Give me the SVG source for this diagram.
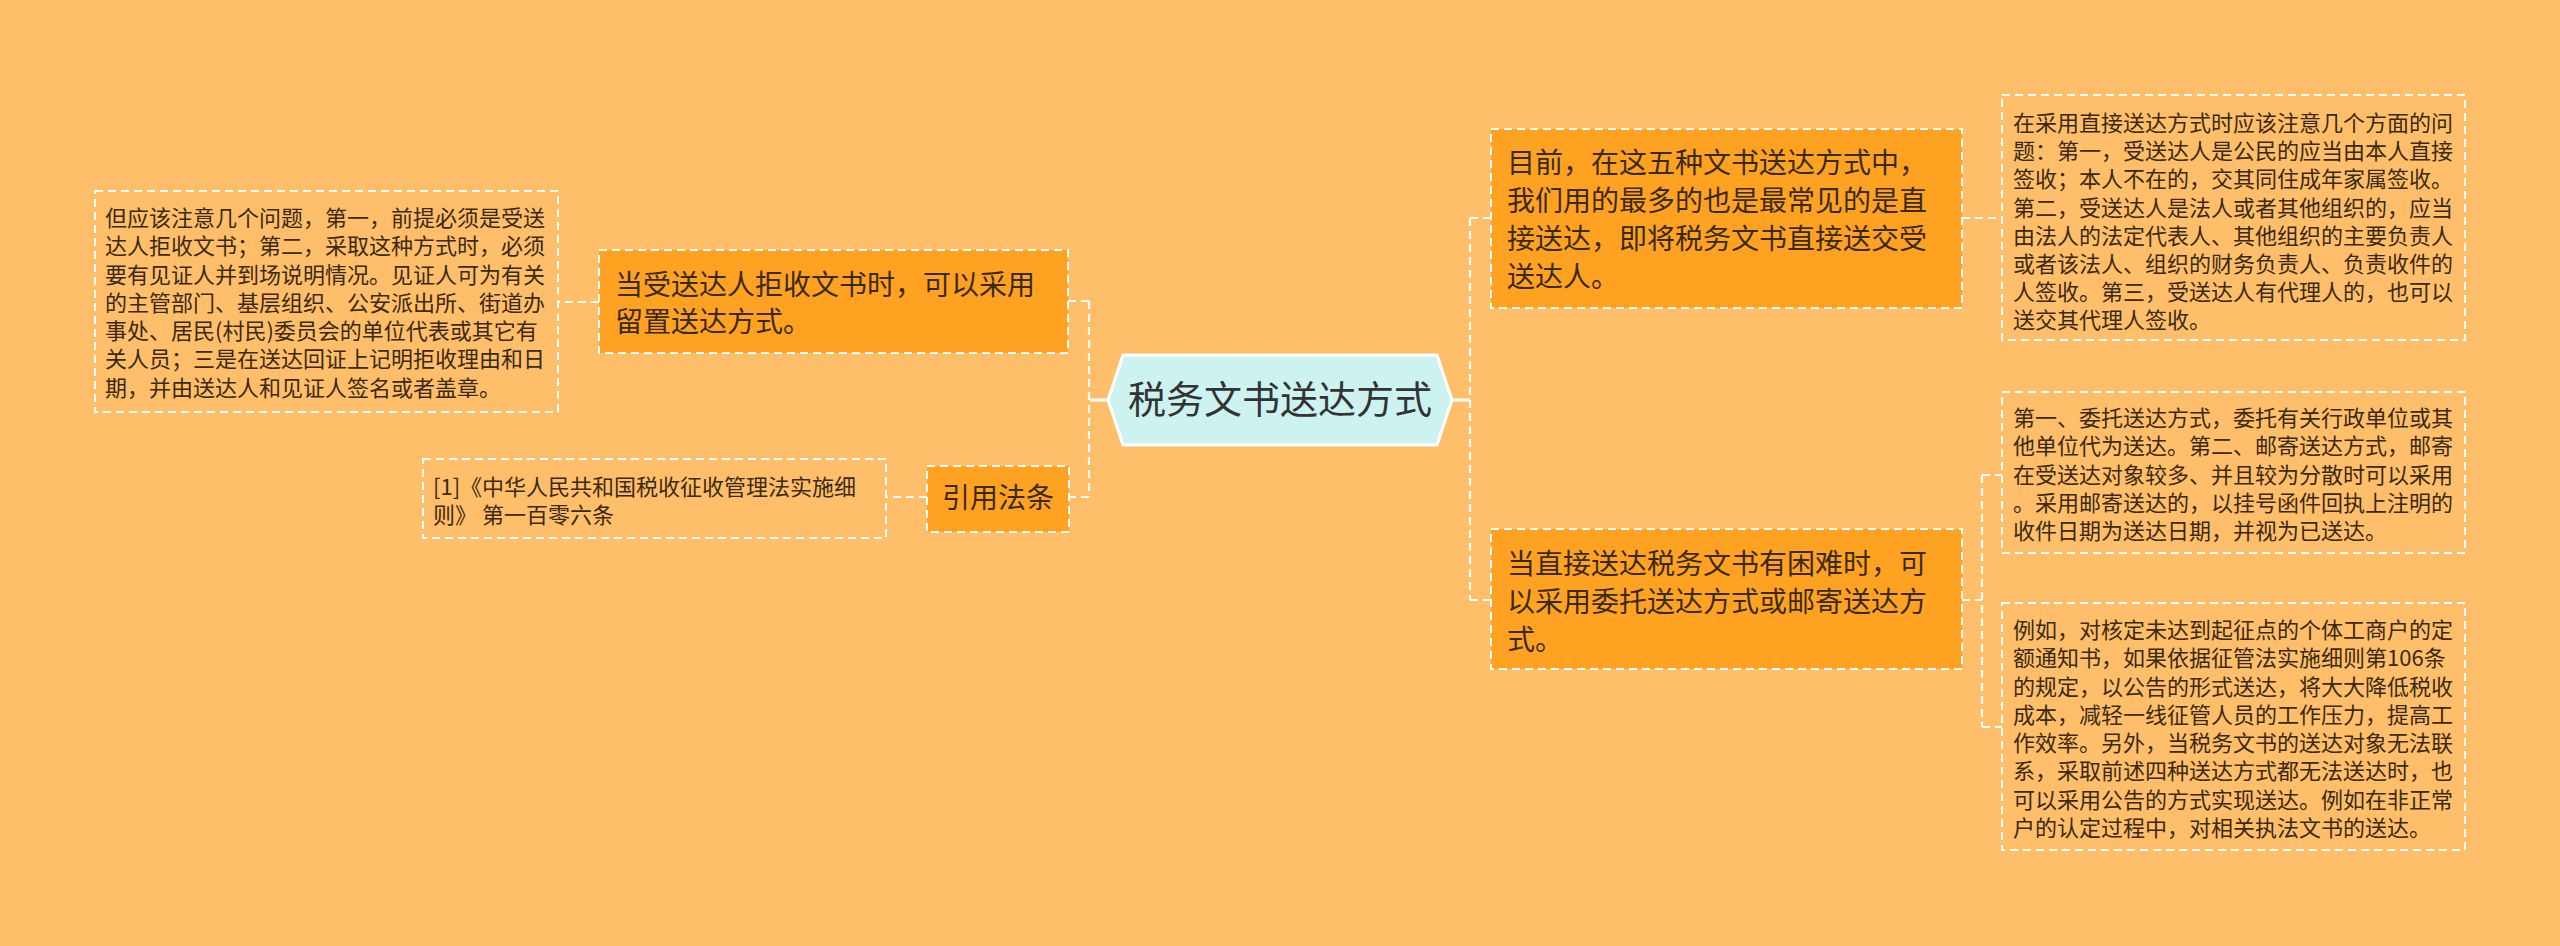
<svg xmlns="http://www.w3.org/2000/svg" width="2560" height="946" viewBox="0 0 2560 946">
<style>
.bg{fill:#FFBE6A}
.conn{fill:none;stroke:#FFFFFF;stroke-width:2.2;stroke-dasharray:8 5}
.solid{fill:none;stroke:#FFFFFF;stroke-width:3}
.main{fill:#FFA222;stroke:#FFFFFF;stroke-width:2;stroke-dasharray:8 5}
.leaf{fill:none;stroke:#FFFFFF;stroke-width:2;stroke-dasharray:8 5}
.t28{font-family:"Noto Sans CJK SC","Noto Sans",sans-serif;font-size:28px;fill:#3A2A12}
.t22{font-family:"Noto Sans CJK SC","Noto Sans",sans-serif;font-size:22px;fill:#3A2A12}
.tc{font-family:"Noto Sans CJK SC","Noto Sans",sans-serif;font-size:38px;fill:#333333}
</style>
<rect class="bg" x="0" y="0" width="2560" height="946"/>
<g id="connectors">
<path class="solid" d="M1452 400 H1470"/>
<path class="conn" d="M1470 218 V600 M1470 218 H1491 M1470 600 H1491"/>
<path class="conn" d="M1962 218 H2002"/>
<path class="conn" d="M1962 600 H1982 M1982 475 V727 M1982 475 H2002 M1982 727 H2002"/>
<path class="solid" d="M1108 400 H1090"/>
<path class="conn" d="M1089 301 V497 M1089 301 H1068 M1089 497 H1069"/>
<path class="conn" d="M599 302 H558"/>
<path class="conn" d="M927 497 H886"/>
</g>
<g id="center">
<polygon points="1108,400 1123,355 1437,355 1452,400 1437,445 1123,445" fill="#CDF3F1" stroke="#FFFFFF" stroke-width="3"/>
<text class="tc" x="1280" y="413" text-anchor="middle">税务文书送达方式</text>
</g>
<g id="r1">
<rect class="main" x="1491" y="129" width="471" height="179"/>
<text class="t28"><tspan x="1507" y="173">目前，在这五种文书送达方式中，</tspan><tspan x="1507" y="211">我们用的最多的也是最常见的是直</tspan><tspan x="1507" y="249">接送达，即将税务文书直接送交受</tspan><tspan x="1507" y="287">送达人。</tspan></text>
</g>
<g id="r1leaf">
<rect class="leaf" x="2002" y="95" width="463" height="245"/>
<text class="t22"><tspan x="2013" y="131">在采用直接送达方式时应该注意几个方面的问</tspan><tspan x="2013" y="159">题：第一，受送达人是公民的应当由本人直接</tspan><tspan x="2013" y="187">签收；本人不在的，交其同住成年家属签收。</tspan><tspan x="2013" y="216">第二，受送达人是法人或者其他组织的，应当</tspan><tspan x="2013" y="244">由法人的法定代表人、其他组织的主要负责人</tspan><tspan x="2013" y="272">或者该法人、组织的财务负责人、负责收件的</tspan><tspan x="2013" y="300">人签收。第三，受送达人有代理人的，也可以</tspan><tspan x="2013" y="328">送交其代理人签收。</tspan></text>
</g>
<g id="r2">
<rect class="main" x="1491" y="529" width="471" height="140"/>
<text class="t28"><tspan x="1507" y="574">当直接送达税务文书有困难时，可</tspan><tspan x="1507" y="612">以采用委托送达方式或邮寄送达方</tspan><tspan x="1507" y="650">式。</tspan></text>
</g>
<g id="r2leafA">
<rect class="leaf" x="2002" y="392" width="463" height="161"/>
<text class="t22"><tspan x="2013" y="426">第一、委托送达方式，委托有关行政单位或其</tspan><tspan x="2013" y="454">他单位代为送达。第二、邮寄送达方式，邮寄</tspan><tspan x="2013" y="483">在受送达对象较多、并且较为分散时可以采用</tspan><tspan x="2013" y="511">。采用邮寄送达的，以挂号函件回执上注明的</tspan><tspan x="2013" y="539">收件日期为送达日期，并视为已送达。</tspan></text>
</g>
<g id="r2leafB">
<rect class="leaf" x="2002" y="603" width="463" height="247"/>
<text class="t22"><tspan x="2013" y="638">例如，对核定未达到起征点的个体工商户的定</tspan><tspan x="2013" y="666">额通知书，如果依据征管法实施细则第106条</tspan><tspan x="2013" y="695">的规定，以公告的形式送达，将大大降低税收</tspan><tspan x="2013" y="723">成本，减轻一线征管人员的工作压力，提高工</tspan><tspan x="2013" y="751">作效率。另外，当税务文书的送达对象无法联</tspan><tspan x="2013" y="779">系，采取前述四种送达方式都无法送达时，也</tspan><tspan x="2013" y="808">可以采用公告的方式实现送达。例如在非正常</tspan><tspan x="2013" y="836">户的认定过程中，对相关执法文书的送达。</tspan></text>
</g>
<g id="l1">
<rect class="main" x="599" y="250" width="469" height="103"/>
<text class="t28"><tspan x="615" y="295">当受送达人拒收文书时，可以采用</tspan><tspan x="615" y="332">留置送达方式。</tspan></text>
</g>
<g id="l1leaf">
<rect class="leaf" x="95" y="191" width="463" height="221"/>
<text class="t22"><tspan x="105" y="226">但应该注意几个问题，第一，前提必须是受送</tspan><tspan x="105" y="254">达人拒收文书；第二，采取这种方式时，必须</tspan><tspan x="105" y="283">要有见证人并到场说明情况。见证人可为有关</tspan><tspan x="105" y="311">的主管部门、基层组织、公安派出所、街道办</tspan><tspan x="105" y="339">事处、居民(村民)委员会的单位代表或其它有</tspan><tspan x="105" y="367">关人员；三是在送达回证上记明拒收理由和日</tspan><tspan x="105" y="396">期，并由送达人和见证人签名或者盖章。</tspan></text>
</g>
<g id="l2">
<rect class="main" x="927" y="466" width="142" height="66"/>
<text class="t28" x="998" y="508" text-anchor="middle">引用法条</text>
</g>
<g id="l2leaf">
<rect class="leaf" x="423" y="459" width="463" height="79"/>
<text class="t22"><tspan x="433" y="495">[1]《中华人民共和国税收征收管理法实施细</tspan><tspan x="433" y="523">则》 第一百零六条</tspan></text>
</g>
</svg>
